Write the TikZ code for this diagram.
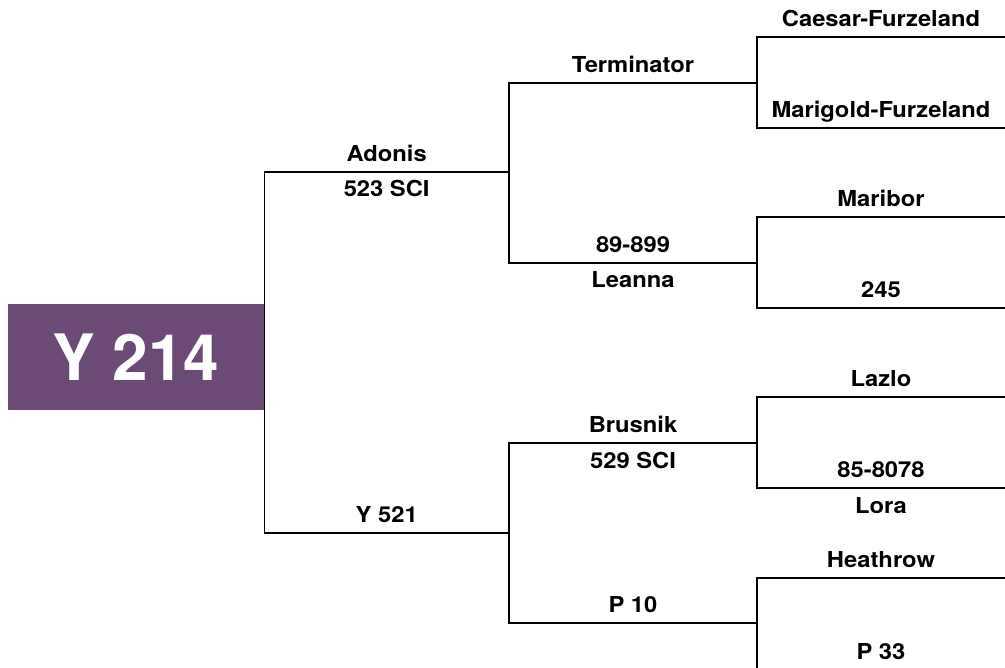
\documentclass[tikz,border=0pt]{standalone}
\usepackage{fontspec}
\setmainfont{TeX Gyre Heros}[FakeStretch=1.08]
\newfontfamily\rootfont{TeX Gyre Heros}
\usetikzlibrary{positioning}
\definecolor{plum}{RGB}{108,74,118}

\begin{document}
\begin{tikzpicture}[x=1pt, y=-1pt, line width=1.8pt,
    lbl/.style={font=\bfseries\fontsize{22}{26}\selectfont, anchor=base, inner sep=0pt},
    up/.style={lbl, yshift=10.5pt},
    down/.style={lbl, yshift=-25pt}]
  \useasboundingbox (0,0) rectangle (1005,668);
  % the dog itself
  \node[fill=plum, text=white, inner sep=0pt, minimum width=255.5pt, minimum height=106pt,
        font=\rootfont\bfseries\fontsize{64}{70}\selectfont] (root) at (135.75,357) {Y 214};
  % parents and grandparents
  \coordinate (adonis) at (509,172);
  \coordinate (y521) at (509,533);
  \coordinate (term) at (757,83);
  \coordinate (e899) at (757,263);
  \coordinate (brus) at (757,443);
  \coordinate (p10) at (757,623);
  % great-grandparents
  \coordinate (caesar) at (1005,37);
  \coordinate (marigold) at (1005,128);
  \coordinate (maribor) at (1005,217);
  \coordinate (n245) at (1005,308);
  \coordinate (lazlo) at (1005,397);
  \coordinate (n8078) at (1005,488);
  \coordinate (heath) at (1005,578);
  \coordinate (p33) at (1005,669.5);

  \draw (adonis) -| node[pos=.25, up] {Adonis} node[pos=.25, down] {523 SCI} (root.east)
        |- node[pos=.75, up] {Y 521} (y521);
  \draw (term) -| node[pos=.25, up] {Terminator} (adonis)
        |- node[pos=.75, up] {89-899} node[pos=.75, down] {Leanna} (e899);
  \draw (brus) -| node[pos=.25, up] {Brusnik} node[pos=.25, down] {529 SCI} (y521)
        |- node[pos=.75, up] {P 10} (p10);
  \draw (caesar) -| node[pos=.25, up] {Caesar-Furzeland} (term)
        |- node[pos=.75, up] {Marigold-Furzeland} (marigold);
  \draw (maribor) -| node[pos=.25, up] {Maribor} (e899)
        |- node[pos=.75, up] {245} (n245);
  \draw (lazlo) -| node[pos=.25, up] {Lazlo} (brus)
        |- node[pos=.75, up] {85-8078} node[pos=.75, down] {Lora} (n8078);
  \draw (heath) -| node[pos=.25, up] {Heathrow} (p10)
        |- node[pos=.75, up] {P 33} (p33);
\end{tikzpicture}
\end{document}
